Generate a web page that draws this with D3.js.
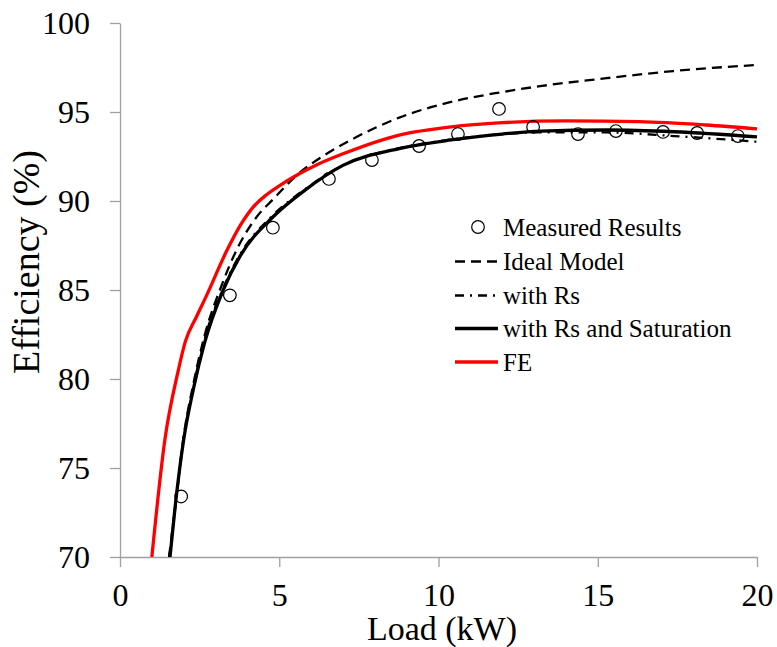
<!DOCTYPE html>
<html>
<head>
<meta charset="utf-8">
<script src="https://cdn.jsdelivr.net/npm/d3@7"></script>
<style>
  html, body { margin: 0; padding: 0; background: #fff; }
  svg { display: block; }
  svg text { font-family: "Liberation Serif", "Times New Roman", serif; }
</style>
</head>
<body>
<svg id="chart" width="777" height="647"></svg>
<script>
// Measured efficiency points: load (kW) and efficiency (%)
const measuredLoad = [1.92, 3.45, 4.80, 6.56, 7.91, 9.39, 10.61, 11.90, 12.97, 14.38, 15.57, 17.05, 18.12, 19.40];
const measuredEff  = [73.4, 84.7, 88.5, 91.24, 92.3, 93.09, 93.76, 95.17, 94.16, 93.76, 93.93, 93.88, 93.82, 93.65];

// Ideal model curve
const idealLoad = [1.54, 1.75, 2.0, 2.3, 2.65, 3.2, 3.66, 4.29, 4.81, 5.55, 6.49, 7.22, 8.0, 8.79, 10.36, 11.93, 13.19, 15.28, 17.37, 20];
const idealEff  = [70, 73.1, 76.8, 79.7, 82.4, 85.3, 87.25, 89.1, 90.1, 91.45, 92.65, 93.4, 94.1, 94.7, 95.55, 96.1, 96.45, 96.9, 97.3, 97.64];

// Model with series resistance
const rsLoad = [1.55, 1.75, 2.0, 2.3, 2.65, 3.24, 3.77, 4.8, 5.8, 7.0, 8.8, 10.4, 12.0, 13.2, 15.3, 17.4, 20];
const rsEff  = [70, 73.0, 76.7, 79.5, 82.2, 85.1, 87.0, 89.2, 90.65, 92.0, 92.98, 93.45, 93.76, 93.86, 93.85, 93.65, 93.33];

// Model with series resistance and saturation
const satLoad = [1.57, 1.73, 2.0, 2.3, 2.65, 3.24, 3.77, 4.8, 5.8, 7.0, 8.8, 10.4, 12.0, 13.2, 15.3, 17.4, 20];
const satEff  = [70, 72.8, 76.6, 79.4, 82.0, 85.0, 86.9, 89.1, 90.6, 92.0, 92.96, 93.43, 93.76, 93.93, 93.99, 93.89, 93.6];

// FE simulation curve
const feLoad = [1.0, 1.41, 1.82, 2.05, 2.4, 2.72, 3.35, 3.8, 4.2, 4.6, 5.0, 5.6, 6.2, 7.0, 8.8, 10.4, 12.0, 14.0, 16.3, 18.4, 20];
const feEff  = [70, 76.6, 80.4, 82.1, 83.5, 84.7, 87.2, 88.7, 89.7, 90.35, 90.85, 91.5, 92.05, 92.65, 93.72, 94.17, 94.4, 94.5, 94.46, 94.27, 94.05];

const xTicks = [0, 5, 10, 15, 20];
const yTicks = [70, 75, 80, 85, 90, 95, 100];

const svg = d3.select("#chart");
const x = d3.scaleLinear().domain([0, 20]).range([120, 757]);
const y = d3.scaleLinear().domain([70, 100]).range([557, 23]);
const axisColor = "#a0a0a0";
const serif = "'Liberation Serif', 'Times New Roman', serif";

// Axes
const xAxis = svg.append("g")
  .attr("transform", `translate(0,${y(70)})`)
  .call(d3.axisBottom(x).tickValues(xTicks).tickSize(10).tickSizeOuter(0).tickPadding(16).tickFormat(d3.format("d")));
const yAxis = svg.append("g")
  .attr("transform", `translate(${x(0)},0)`)
  .call(d3.axisLeft(y).tickValues(yTicks).tickSize(10).tickSizeOuter(0).tickPadding(20).tickFormat(d3.format("d")));
[xAxis, yAxis].forEach(g => {
  g.attr("font-family", serif);
  g.selectAll("path, line").attr("stroke", axisColor).attr("stroke-width", 1.3);
  g.selectAll("text").attr("fill", "#000").attr("font-size", 32).attr("font-family", serif);
});

// Axis titles
svg.append("text")
  .attr("x", 442).attr("y", 640)
  .attr("text-anchor", "middle")
  .attr("font-family", serif)
  .attr("font-size", 34)
  .text("Load (kW)");
svg.append("text")
  .attr("transform", "translate(39,262) rotate(-90)")
  .attr("text-anchor", "middle")
  .attr("font-family", serif)
  .attr("font-size", 38)
  .text("Efficiency (%)");

// Plot clip
svg.append("clipPath").attr("id", "plot")
  .append("rect").attr("x", x(0)).attr("y", y(100) - 5).attr("width", x(20) - x(0) + 2).attr("height", y(70) - y(100) + 5);

const line = d3.line()
  .x(d => x(d[0])).y(d => y(d[1]))
  .curve(d3.curveMonotoneX);

const series = [
  { name: "Ideal Model", load: idealLoad, eff: idealEff, color: "#000", width: 2.3, dash: "10,6" },
  { name: "with Rs", load: rsLoad, eff: rsEff, color: "#000", width: 2.3, dash: "9,6,2,6" },
  { name: "with Rs and Saturation", load: satLoad, eff: satEff, color: "#000", width: 3.3, dash: null },
  { name: "FE", load: feLoad, eff: feEff, color: "#ff0000", width: 3.3, dash: null }
];

const curves = svg.append("g").attr("clip-path", "url(#plot)");
series.forEach(s => {
  curves.append("path")
    .datum(s.load.map((v, i) => [v, s.eff[i]]))
    .attr("d", line)
    .attr("fill", "none")
    .attr("stroke", s.color)
    .attr("stroke-width", s.width)
    .attr("stroke-dasharray", s.dash);
});

// Measured points
svg.append("g").selectAll("circle")
  .data(measuredLoad.map((v, i) => [v, measuredEff[i]]))
  .join("circle")
  .attr("cx", d => x(d[0])).attr("cy", d => y(d[1]))
  .attr("r", 6.3)
  .attr("fill", "none")
  .attr("stroke", "#000")
  .attr("stroke-width", 1.2);

// Legend
const legend = svg.append("g").attr("font-family", serif);
const legendY = [227, 261.5, 295.5, 328.5, 362];
legend.append("circle")
  .attr("cx", 478).attr("cy", legendY[0]).attr("r", 6.3)
  .attr("fill", "none").attr("stroke", "#000").attr("stroke-width", 1.2);
legend.append("text")
  .attr("x", 503).attr("y", legendY[0]).attr("dy", "0.35em")
  .attr("font-size", 25).text("Measured Results");
series.forEach((s, i) => {
  const ly = legendY[i + 1];
  legend.append("line")
    .attr("x1", 455).attr("x2", 498).attr("y1", ly).attr("y2", ly)
    .attr("stroke", s.color).attr("stroke-width", s.width)
    .attr("stroke-dasharray", s.dash);
  legend.append("text")
    .attr("x", 503).attr("y", ly).attr("dy", "0.35em")
    .attr("font-size", 25).text(s.name);
});
</script>
</body>
</html>
